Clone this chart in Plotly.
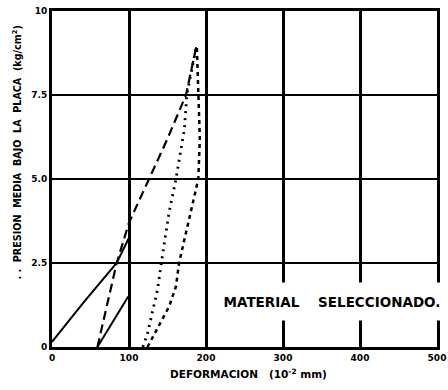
import plotly.graph_objects as go

# Loading / unloading curves (deformation in 10^-2 mm, pressure in kg/cm2)
solid1_x = [0, 40, 84, 100]
solid1_y = [0.15, 1.3, 2.5, 3.25]

solid2_x = [59, 99]
solid2_y = [0, 1.5]

dash_x = [59, 84, 100, 126, 150, 174, 188]
dash_y = [0, 2.5, 3.7, 5.0, 6.2, 7.5, 9.0]

dot_x = [118, 124, 130, 137, 142, 152, 161, 168, 172, 175, 188]
dot_y = [0, 0.4, 1.0, 1.7, 2.5, 4.0, 5.0, 5.9, 6.5, 7.5, 9.0]

dd_x = [124, 133, 142, 152, 161, 165, 174, 184, 190, 192, 190, 188]
dd_y = [0, 0.4, 0.8, 1.2, 1.8, 2.5, 3.4, 4.4, 5.0, 6.2, 7.5, 9.0]

x_ticks = [0, 100, 200, 300, 400, 500]
x_tick_text = ["0", "100", "200", "300", "400", "500"]
y_ticks = [0, 2.5, 5.0, 7.5, 10]
y_tick_text = ["0", "2.5", "5.0", "7.5", "10"]

FONT = "DejaVu Sans"

fig = go.Figure()
fig.add_trace(go.Scatter(x=solid1_x, y=solid1_y, mode="lines",
                         line=dict(color="black", width=2)))
fig.add_trace(go.Scatter(x=solid2_x, y=solid2_y, mode="lines",
                         line=dict(color="black", width=2)))
fig.add_trace(go.Scatter(x=dash_x, y=dash_y, mode="lines",
                         line=dict(color="black", width=2.2, dash="9px,5px")))
fig.add_trace(go.Scatter(x=dot_x, y=dot_y, mode="lines",
                         line=dict(color="black", width=2.8, dash="2px,5px")))
fig.add_trace(go.Scatter(x=dd_x, y=dd_y, mode="lines",
                         line=dict(color="black", width=2.5, dash="4px,4px")))

fig.add_annotation(x=363, y=1.35, xref="x", yref="y",
                   text="<b>MATERIAL&nbsp;&nbsp;&nbsp;&nbsp;SELECCIONADO.</b>", showarrow=False,
                   font=dict(family=FONT, size=13.5, color="black"),
                   bgcolor="white", borderpad=2, width=222, height=33)
fig.add_annotation(x=0.51, y=-0.08, xref="paper", yref="paper",
                   xanchor="center", yanchor="middle",
                   text="<b>DEFORMACION&nbsp;&nbsp;&nbsp;(10<sup>-2</sup> mm)</b>", showarrow=False,
                   font=dict(family=FONT, size=10.5, color="black"))
fig.add_annotation(x=-0.09, y=0.58, xref="paper", yref="paper",
                   xanchor="center", yanchor="middle",
                   text="<b>. .  PRESION  MEDIA  BAJO  LA  PLACA  (kg/cm<sup>2</sup>)</b>",
                   showarrow=False, textangle=-90,
                   font=dict(family=FONT, size=9.6, color="black"))

fig.update_layout(
    width=448, height=390,
    margin=dict(l=52, r=11, t=11, b=43, autoexpand=False),
    paper_bgcolor="white", plot_bgcolor="white",
    showlegend=False,
    xaxis=dict(range=[0, 500], tickvals=x_ticks, ticktext=x_tick_text,
               showgrid=True, gridcolor="black", gridwidth=2.5,
               showline=True, linecolor="black", linewidth=3, mirror=True,
               zeroline=False, ticks="", ticklen=0, automargin=False,
               tickfont=dict(family=FONT, size=9, color="black", weight="bold")),
    yaxis=dict(range=[0, 10], tickvals=y_ticks, ticktext=y_tick_text,
               showgrid=True, gridcolor="black", gridwidth=1.8,
               showline=True, linecolor="black", linewidth=3, mirror=True,
               zeroline=False, ticks="", ticklen=0, automargin=False,
               tickfont=dict(family=FONT, size=9, color="black", weight="bold")),
)

fig.write_html("out.html", config={"displayModeBar": False},
               post_script="document.body.style.margin='0';document.body.style.overflow='hidden';")
